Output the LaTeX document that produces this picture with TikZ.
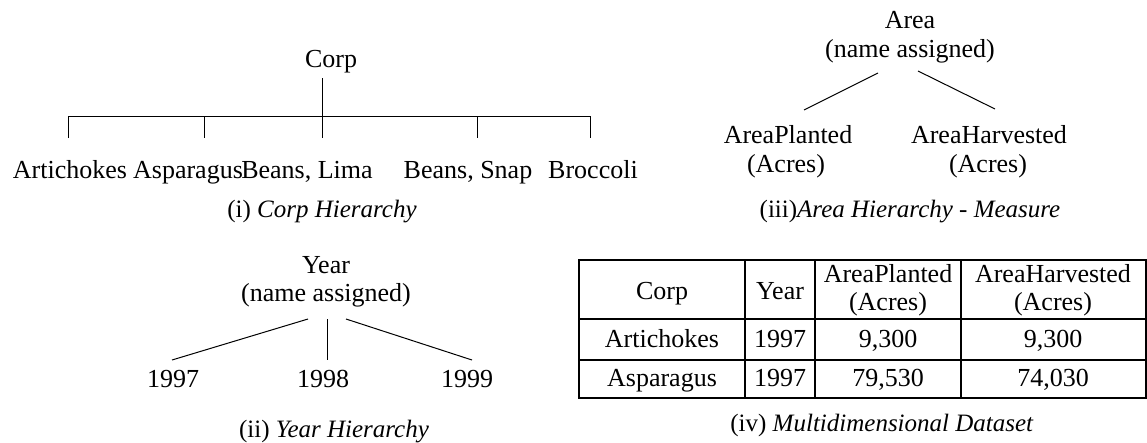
\documentclass[tikz,border=0pt]{standalone}
\usepackage{fontspec}
\setmainfont{Liberation Serif}
\usetikzlibrary{calc}
\begin{document}
\begin{tikzpicture}[x=1pt,y=-1pt,
  lbl/.style={inner sep=0pt, anchor=base, font=\fontsize{26}{29}\selectfont},
  captxt/.style={inner sep=0pt, anchor=base, font=\fontsize{25}{29}\selectfont},
  edge/.style={line width=1pt, black},
  rule/.style={line width=1.4pt, black}]
\useasboundingbox (0,0) rectangle (1147,442);

% (i) crop hierarchy
\node[lbl] (corp) at (331,67) {Corp};
\node[lbl] (art)  at (70,178)  {Artichokes};
\node[lbl] (asp)  at (188,178) {Asparagus};
\node[lbl] (lima) at (307,178) {Beans, Lima};
\node[lbl] (snap) at (468,178) {Beans, Snap};
\node[lbl] (broc) at (593,178) {Broccoli};
\node[captxt] (capi) at (322,217) {(i) \textit{Corp Hierarchy}};
\draw[edge] ($(corp.base)+(-9,11)$) -- ($(lima.base)+(15,-40)$);
\draw[edge] ($(art.base)+(-2,-40)$) -- ++(0,-22) -| ($(broc.base)+(-3,-40)$);
\draw[edge] ($(asp.base)+(16,-62)$) -- ($(asp.base)+(16,-40)$);
\draw[edge] ($(snap.base)+(9,-62)$) -- ($(snap.base)+(9,-40)$);

% (iii) area hierarchy
\node[lbl] (area)  at (910,28) {Area};
\node[lbl] (areaN) at (910,57) {(name assigned)};
\node[lbl] (aP)    at (788,143) {AreaPlanted};
\node[lbl] (aPu)   at (786,172) {(Acres)};
\node[lbl] (aH)    at (989,143) {AreaHarvested};
\node[lbl] (aHu)   at (988,172) {(Acres)};
\node[captxt] (capiii) at (910,217) {(iii)\textit{Area Hierarchy - Measure}};
\draw[edge] ($(areaN.base)+(-32,16)$) -- ($(aP.base)+(16,-33)$);
\draw[edge] ($(areaN.base)+(8,14)$) -- ($(aH.base)+(6,-34)$);

% (ii) year hierarchy
\node[lbl] (year)  at (326,273) {Year};
\node[lbl] (yearN) at (326,301) {(name assigned)};
\node[lbl] (y97)   at (173,387) {1997};
\node[lbl] (y98)   at (323,387) {1998};
\node[lbl] (y99)   at (467,387) {1999};
\node[captxt] (capii) at (334,437) {(ii) \textit{Year Hierarchy}};
\draw[edge] ($(yearN.base)+(-18,18)$) -- ($(y97.base)+(-1,-27)$);
\draw[edge] ($(yearN.base)+(1,18)$) -- ($(y98.base)+(4,-27)$);
\draw[edge] ($(yearN.base)+(20,18)$) -- ($(y99.base)+(5,-27)$);

% (iv) dataset table
\draw[rule] (579,260) rectangle (1146,398);
\draw[rule] (579,319) -- (1146,319);
\draw[rule] (579,360) -- (1146,360);
\draw[rule] (745,260) -- (745,398);
\draw[rule] (815,260) -- (815,398);
\draw[rule] (961,260) -- (961,398);
\node[lbl] (hCorp) at (662,299) {Corp};
\node[lbl] (hYear) at (780,299) {Year};
\node[lbl] (hAP)   at (888,282) {AreaPlanted};
\node[lbl] (hAPu)  at (888,310) {(Acres)};
\node[lbl] (hAH)   at (1053,282) {AreaHarvested};
\node[lbl] (hAHu)  at (1053,310) {(Acres)};
\node[lbl] (r1c1) at (662,347) {Artichokes};
\node[lbl] (r1c2) at (780,347) {1997};
\node[lbl] (r1c3) at (888,347) {9,300};
\node[lbl] (r1c4) at (1053,347) {9,300};
\node[lbl] (r2c1) at (662,386) {Asparagus};
\node[lbl] (r2c2) at (780,386) {1997};
\node[lbl] (r2c3) at (888,386) {79,530};
\node[lbl] (r2c4) at (1053,386) {74,030};
\node[captxt] (capiv) at (882,431) {(iv) \textit{Multidimensional Dataset}};
\end{tikzpicture}
\end{document}
